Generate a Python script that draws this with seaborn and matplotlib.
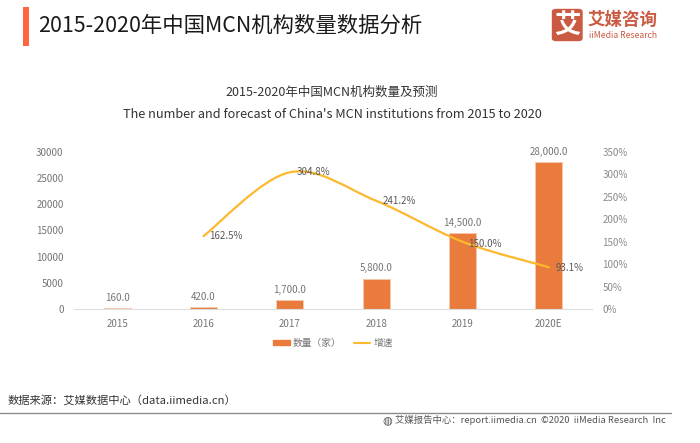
import matplotlib
matplotlib.use("Agg")
import matplotlib.pyplot as plt
import seaborn as sns
import pandas as pd
from matplotlib.patches import FancyBboxPatch, PathPatch, Rectangle
from matplotlib.path import Path
from matplotlib.lines import Line2D
from matplotlib.patches import Patch

anos = ["2015", "2016", "2017", "2018", "2019", "2020E"]
quantidade = [160, 420, 1700, 5800, 14500, 28000]
crescimento = [None, 162.5, 304.8, 241.2, 150.0, 93.1]
ticks_esq = [0, 5000, 10000, 15000, 20000, 25000, 30000]
ticks_dir = [0, 50, 100, 150, 200, 250, 300, 350]

sns.set_theme(style="white")
plt.rcParams["font.family"] = ["Noto Sans CJK SC", "DejaVu Sans"]

W, H = 700, 443
LARANJA = "#E97C3D"
AMARELO = "#FDB92E"
CINZA = "#757575"


def fx(px):
    return px / W


def fy(px):
    return 1 - px / H


fig = plt.figure(figsize=(7, 4.43), dpi=100, facecolor="white")
ax = fig.add_axes([fx(74), fy(309), (592 - 74) / W, (309 - 152) / H])

df = pd.DataFrame({"Ano": anos, "Quantidade": quantidade})
sns.barplot(data=df, x="Ano", y="Quantidade", color=LARANJA, width=0.31, saturation=1,
            edgecolor="#F6C9AE", linewidth=0.6, ax=ax)
ax.set_xlim(-0.5, 5.5)
ax.set_ylim(0, 30000)
ax.set_yticks(ticks_esq)
ax.set_xlabel("")
ax.set_ylabel("")
ax.tick_params(axis="both", length=0, labelsize=7, labelcolor=CINZA)
ax.tick_params(axis="x", pad=7.5)
ax.tick_params(axis="y", pad=7.5)
for lado in ["top", "left", "right"]:
    ax.spines[lado].set_visible(False)
ax.spines["bottom"].set_color("#DDDDDD")
ax.spines["bottom"].set_linewidth(0.8)

for i, v in enumerate(quantidade):
    ax.text(i, v + 1000, f"{v:,.1f}", ha="center", va="bottom", fontsize=7, color=CINZA)

ax2 = ax.twinx()
ax2.set_ylim(0, 350)
ax2.set_yticks(ticks_dir)
ax2.set_yticklabels([f"{t}%" for t in ticks_dir])
ax2.tick_params(axis="y", length=0, labelsize=7, labelcolor="#8A8A8A", pad=7.5)
ax2.grid(False)
for lado in ["top", "left", "right", "bottom"]:
    ax2.spines[lado].set_visible(False)

# curva suavizada (bezier) passando pelos valores de crescimento
pts = [(i, v) for i, v in enumerate(crescimento) if v is not None]
verts = [pts[0]]
codes = [Path.MOVETO]
for k in range(len(pts) - 1):
    p0 = pts[max(k - 1, 0)]
    p1 = pts[k]
    p2 = pts[k + 1]
    p3 = pts[min(k + 2, len(pts) - 1)]
    c1 = (p1[0] + (p2[0] - p0[0]) / 6, p1[1] + (p2[1] - p0[1]) / 6)
    c2 = (p2[0] - (p3[0] - p1[0]) / 6, p2[1] - (p3[1] - p1[1]) / 6)
    verts += [c1, c2, p2]
    codes += [Path.CURVE4, Path.CURVE4, Path.CURVE4]
ax2.add_patch(PathPatch(Path(verts, codes), facecolor="none", edgecolor=AMARELO, linewidth=1.6,
                        capstyle="round"))

desloc = {1: (0.07, 0, "left"), 2: (0.27, 0, "center"), 3: (0.07, 0, "left"),
          4: (0.06, -5, "left"), 5: (0.08, -2, "left")}
for i, (dx, dy, alinh) in desloc.items():
    ax2.text(i + dx, crescimento[i] + dy, f"{crescimento[i]:.1f}%", ha=alinh, va="center",
             fontsize=7, color="#595959")

# legenda
leg = ax.legend(handles=[Patch(color=LARANJA, label="数量（家）"),
                         Line2D([0], [0], color=AMARELO, lw=1.5, label="增速")],
                loc="center", bbox_to_anchor=((333 - 74) / 518, (309 - 343) / 157), ncol=2,
                frameon=False, fontsize=7, labelcolor=CINZA, handlelength=1.7, handleheight=0.5,
                handletextpad=0.3, columnspacing=1.3, borderpad=0)

# cabecalho
fig.add_artist(Rectangle((fx(23), fy(46)), 6 / W, 39 / H, transform=fig.transFigure,
                         facecolor="#FF6640", edgecolor="none"))
fig.text(fx(38), fy(25.5), "2015-2020年中国MCN机构数量数据分析", fontsize=15.4, color="#1A1A1A",
         ha="left", va="center")
fig.text(fx(332), fy(92), "2015-2020年中国MCN机构数量及预测", fontsize=9, color="#333333",
         ha="center", va="center")
fig.text(fx(332), fy(115), "The number and forecast of China's MCN institutions from 2015 to 2020",
         fontsize=9.15, color="#333333", ha="center", va="center")

# logo
fig.add_artist(FancyBboxPatch((fx(552.5), fy(40.5)), 29.5 / W, 31 / H,
                              boxstyle="round,pad=0,rounding_size=0.005",
                              transform=fig.transFigure, facecolor="#CB5A42", edgecolor="#CB5A42",
                              linewidth=1))
fig.text(fx(567), fy(25), "艾", fontsize=19, color="white", ha="center", va="center", weight="bold")
fig.text(fx(587), fy(20), "艾媒咨询", fontsize=12.6, color="#CB5A42", ha="left", va="center",
         weight="bold")
fig.text(fx(589), fy(35), "iiMedia Research", fontsize=6.2, color="#CB5A42", ha="left", va="center",
         weight="medium")

# rodape
fig.text(fx(8), fy(400), "数据来源：艾媒数据中心（data.iimedia.cn）", fontsize=8.1, color="#333333",
         ha="left", va="center")
fig.add_artist(Line2D([0, fx(671)], [fy(413), fy(413)], transform=fig.transFigure, color="#8C8C8C",
                      lw=1))
fig.text(fx(395), fy(420), "艾媒报告中心：report.iimedia.cn  ©2020  iiMedia Research  Inc",
         fontsize=6.75, color="#555555", ha="left", va="center")
fig.text(fx(387), fy(420.5), "◍", fontsize=8, color="#555555", ha="center", va="center",
         family=["DejaVu Sans"])

plt.savefig("out.png", dpi=100)
plt.close()
